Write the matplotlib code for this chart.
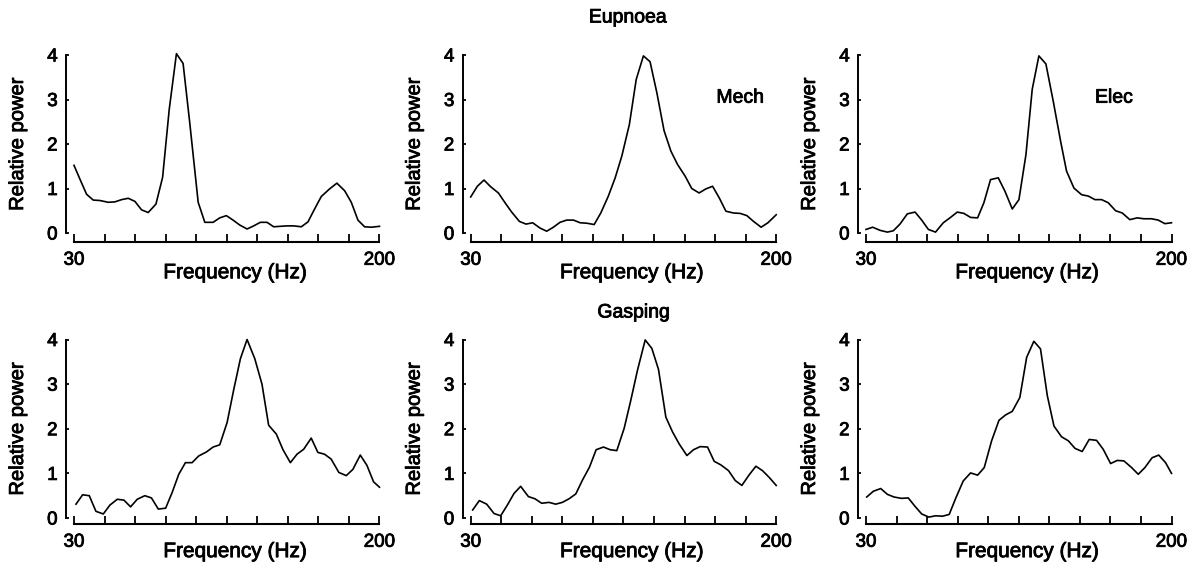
import numpy as np
import matplotlib.pyplot as plt
import matplotlib.patheffects as pe
from matplotlib.text import Text

plt.rcParams['font.family'] = ['Liberation Sans', 'DejaVu Sans']

# panel 1 (eupnoea, left)
eup_left_f = [30.0, 33.3, 37.0, 40.7, 44.4, 49.1, 52.8, 56.5, 60.2, 63.9, 67.6, 71.3, 75.6, 79.3, 83.0,
              87.0, 90.7, 94.4, 99.1, 102.8, 107.4, 111.1, 114.8, 118.5, 122.2, 126.3, 130.0, 133.7, 137.4,
              141.1, 144.8, 148.5, 152.2, 156.5, 160.2, 163.9, 167.6, 172.2, 176.3, 180.6, 184.3, 188.0,
              191.7, 195.4, 200.0]
eup_left_p = [1.52, 1.21, 0.87, 0.74, 0.73, 0.69, 0.70, 0.75, 0.78, 0.71, 0.52, 0.46, 0.65, 1.25, 2.78,
              4.03, 3.81, 2.48, 0.69, 0.24, 0.24, 0.34, 0.39, 0.29, 0.18, 0.09, 0.16, 0.24, 0.24, 0.14,
              0.15, 0.16, 0.16, 0.14, 0.25, 0.54, 0.82, 0.99, 1.12, 0.95, 0.69, 0.29, 0.14, 0.13, 0.15]

# panel 2 (eupnoea, mech)
eup_mech_f = [30.0, 33.7, 37.4, 41.1, 45.4, 49.1, 52.8, 57.1, 60.8, 64.5, 68.6, 72.3, 76.0, 79.7, 83.4,
              87.2, 90.9, 94.6, 98.7, 102.4, 106.6, 110.4, 114.1, 118.3, 122.1, 126.1, 129.8, 133.6, 137.6,
              141.4, 145.1, 149.3, 153.0, 157.1, 160.8, 164.6, 168.3, 172.0, 176.2, 180.0, 183.7, 187.4,
              191.6, 195.4, 200.0]
eup_mech_p = [0.81, 1.05, 1.19, 1.04, 0.90, 0.68, 0.47, 0.26, 0.20, 0.23, 0.11, 0.04, 0.13, 0.24, 0.29,
              0.29, 0.23, 0.22, 0.19, 0.45, 0.83, 1.24, 1.73, 2.44, 3.45, 3.98, 3.85, 3.15, 2.30, 1.84,
              1.54, 1.28, 1.00, 0.90, 0.99, 1.05, 0.79, 0.49, 0.45, 0.44, 0.39, 0.26, 0.13, 0.23, 0.41]

# panel 3 (eupnoea, elec)
eup_elec_f = [30.0, 33.7, 37.8, 41.9, 45.2, 48.9, 53.0, 57.3, 61.0, 64.7, 68.7, 73.0, 76.7, 80.8, 84.5,
              88.2, 92.1, 95.6, 99.3, 103.6, 107.3, 111.4, 115.1, 119.0, 122.5, 126.2, 130.1, 134.2, 138.3,
              141.6, 145.7, 150.0, 153.7, 157.4, 161.1, 164.8, 168.9, 172.6, 176.8, 180.9, 184.6, 188.9,
              192.6, 196.3, 200.0]
eup_elec_p = [0.08, 0.13, 0.06, 0.02, 0.05, 0.20, 0.43, 0.47, 0.29, 0.08, 0.02, 0.23, 0.34, 0.47, 0.44,
              0.35, 0.34, 0.68, 1.20, 1.24, 0.94, 0.54, 0.75, 1.76, 3.23, 3.98, 3.80, 2.96, 2.06, 1.39,
              1.01, 0.86, 0.83, 0.75, 0.75, 0.68, 0.50, 0.45, 0.30, 0.34, 0.32, 0.32, 0.29, 0.21, 0.23]

# panel 4 (gasping, left)
gasp_left_f = [31.1, 34.8, 38.5, 42.2, 46.3, 50.0, 54.1, 57.8, 61.5, 65.2, 69.4, 73.1, 76.9, 81.0, 84.6,
               88.3, 92.0, 95.7, 99.4, 103.7, 107.4, 111.1, 115.2, 118.9, 122.6, 126.3, 130.6, 134.6, 138.3,
               142.6, 146.3, 150.4, 154.1, 157.8, 162.0, 165.7, 169.4, 173.1, 177.4, 181.5, 185.2, 189.3,
               193.0, 196.7, 200.0]
gasp_left_p = [0.31, 0.52, 0.50, 0.15, 0.09, 0.29, 0.42, 0.40, 0.25, 0.42, 0.50, 0.45, 0.20, 0.22, 0.57,
               0.98, 1.24, 1.24, 1.39, 1.48, 1.59, 1.64, 2.14, 2.88, 3.57, 4.00, 3.57, 3.00, 2.08, 1.88,
               1.53, 1.24, 1.43, 1.54, 1.79, 1.47, 1.43, 1.32, 1.02, 0.95, 1.09, 1.41, 1.18, 0.81, 0.69]

# panel 5 (gasping, mech)
gasp_mech_f = [31.1, 34.8, 38.9, 43.0, 46.7, 50.4, 54.1, 57.8, 62.1, 65.8, 69.5, 73.6, 77.3, 81.0, 84.7,
               88.5, 92.2, 96.1, 99.8, 103.9, 107.6, 111.3, 115.4, 119.1, 122.8, 127.1, 130.8, 134.5, 138.6,
               142.3, 146.0, 150.3, 154.0, 157.7, 161.8, 165.5, 169.2, 173.5, 177.2, 180.9, 185.0, 188.7,
               192.4, 196.1, 200.0]
gasp_mech_p = [0.18, 0.39, 0.31, 0.10, 0.05, 0.29, 0.55, 0.71, 0.48, 0.43, 0.33, 0.35, 0.31, 0.35, 0.43,
               0.54, 0.85, 1.14, 1.53, 1.59, 1.53, 1.51, 2.01, 2.64, 3.31, 3.99, 3.80, 3.33, 2.26, 1.93,
               1.66, 1.40, 1.53, 1.60, 1.59, 1.27, 1.19, 1.06, 0.84, 0.73, 0.97, 1.16, 1.06, 0.91, 0.73]

# panel 6 (gasping, elec)
gasp_elec_f = [30.4, 34.1, 38.2, 41.9, 45.6, 49.8, 53.5, 57.3, 61.0, 65.0, 68.7, 72.6, 76.3, 80.0, 84.1,
               88.2, 92.1, 95.8, 99.9, 104.0, 107.7, 111.4, 115.6, 119.4, 123.4, 127.1, 130.9, 134.6, 138.8,
               142.6, 146.3, 150.3, 154.2, 158.3, 162.0, 166.1, 169.8, 173.5, 177.8, 181.5, 185.2, 189.2,
               192.9, 196.7, 200.0]
gasp_elec_p = [0.47, 0.60, 0.66, 0.53, 0.47, 0.44, 0.45, 0.26, 0.09, 0.02, 0.05, 0.04, 0.08, 0.45, 0.83,
               1.01, 0.96, 1.13, 1.73, 2.19, 2.31, 2.39, 2.70, 3.60, 3.96, 3.79, 2.74, 2.06, 1.82, 1.73,
               1.56, 1.49, 1.76, 1.74, 1.54, 1.22, 1.29, 1.28, 1.13, 0.98, 1.13, 1.35, 1.41, 1.24, 1.00]

x_ticks = [30, 47, 64, 81, 98, 115, 132, 149, 166, 183, 200]
x_ticklabels = ['30', '', '', '', '', '', '', '', '', '', '200']
y_ticks = [0, 1, 2, 3, 4]

panels = [(eup_left_f, eup_left_p, None), (eup_mech_f, eup_mech_p, 'Mech'), (eup_elec_f, eup_elec_p, 'Elec'),
          (gasp_left_f, gasp_left_p, None), (gasp_mech_f, gasp_mech_p, None), (gasp_elec_f, gasp_elec_p, None)]

W, H = 1198, 568
fig = plt.figure(figsize=(W / 100, H / 100), dpi=100)

# layout in pixels: left edge of each column, top/bottom of each row, bottom spine offset
cols = [74, 470.7, 866]
aw = 305.5
rows = [(55, 233, 9), (339.5, 518, 6)]

for i, (f, p, tag) in enumerate(panels):
    top, bot, off = rows[i // 3]
    left = cols[i % 3]
    ax = fig.add_axes([left / W, 1 - bot / H, aw / W, (bot - top) / H])
    ax.plot(f, p, color='black', lw=1.2, clip_on=False)
    ax.set_xlim(30, 200)
    ax.set_ylim(0, 4)
    for s in ['top', 'right']:
        ax.spines[s].set_visible(False)
    ax.spines['left'].set_position(('outward', 5.8))
    ax.spines['bottom'].set_position(('outward', off * 0.72))
    ax.spines['left'].set_bounds(0, 4)
    ax.spines['bottom'].set_bounds(30, 200)
    ax.spines['left'].set_linewidth(1.4)
    ax.spines['bottom'].set_linewidth(1.5)
    ax.set_xticks(x_ticks)
    ax.set_xticklabels(x_ticklabels)
    ax.set_yticks(y_ticks)
    ax.tick_params(axis='x', direction='in', length=5.5, width=1.3, pad=7, labelsize=13.5)
    ax.tick_params(axis='y', direction='in', length=2.5, width=1.3, pad=6, labelsize=13.5)
    ax.set_xlabel('Frequency (Hz)', fontsize=15, va='top')
    ax.xaxis.set_label_coords(0.528, -0.17 if i < 3 else -0.135)
    ax.set_ylabel('Relative power', fontsize=14.5, va='center')
    ax.yaxis.set_label_coords(-0.185, 0.5)
    if tag:
        ax.text(180 if tag == 'Mech' else 168, 3.03, tag, ha='center', va='center', fontsize=14)

fig.text(628 / W, 1 - 18 / H, 'Eupnoea', ha='center', va='center', fontsize=14)
fig.text(634 / W, 1 - 313 / H, 'Gasping', ha='center', va='center', fontsize=14)

# printed figure text is heavier than the regular face
for t in fig.findobj(Text):
    t.set_path_effects([pe.withStroke(linewidth=0.6, foreground='black')])

plt.savefig('out.png', dpi=100)
